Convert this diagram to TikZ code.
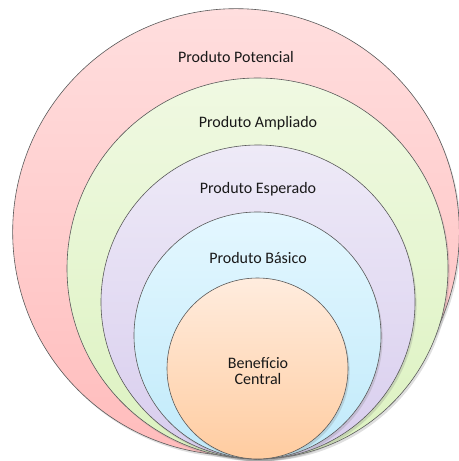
\documentclass[tikz,border=0pt]{standalone}
\usepackage{fontspec}
\setmainfont{Carlito}
\usetikzlibrary{shapes,shadows}

\definecolor{potTop}{RGB}{255,222,222}
\definecolor{potBot}{RGB}{255,188,188}
\definecolor{ampTop}{RGB}{240,249,226}
\definecolor{ampBot}{RGB}{220,242,192}
\definecolor{espTop}{RGB}{238,234,247}
\definecolor{espBot}{RGB}{216,205,238}
\definecolor{basTop}{RGB}{228,247,255}
\definecolor{basBot}{RGB}{192,234,250}
\definecolor{benTop}{RGB}{255,236,222}
\definecolor{benBot}{RGB}{255,204,160}
\definecolor{rim}{RGB}{90,90,90}

\tikzset{
  ring/.style={shape=circle,draw=rim,line width=0.45pt,inner sep=0pt,
    drop shadow={shadow xshift=1.2pt,shadow yshift=-1.8pt,opacity=0.25}},
  caption/.style={align=center,inner sep=0pt,text=black!90,
    font=\fontsize{12}{11.4}\selectfont}
}

\begin{document}
\begin{tikzpicture}[x=0.75pt,y=-0.75pt]
\useasboundingbox (0,0) rectangle (459,461);
\clip (0,0) rectangle (459,461);
\node[ring,minimum size=335pt,top color=potTop,bottom color=potBot] (pot) at (236,232) {};
\node[ring,minimum size=285.75pt,top color=ampTop,bottom color=ampBot] (amp) at (257.5,268.5) {};
\node[ring,minimum size=235.5pt,top color=espTop,bottom color=espBot] (esp) at (258,302) {};
\node[ring,minimum size=185.25pt,top color=basTop,bottom color=basBot] (bas) at (257.5,335.5) {};
\node[ring,minimum size=135.75pt,top color=benTop,bottom color=benBot] (ben) at (257.5,368.5) {};

\node[caption] (pot-txt) at (236,57) {Produto Potencial};
\node[caption] (amp-txt) at (258,123) {Produto Ampliado};
\node[caption] (esp-txt) at (258,189) {Produto Esperado};
\node[caption] (bas-txt) at (258,258) {Produto Básico};
\node[caption] (ben-txt) at (258,371) {Benefício\\Central};
\end{tikzpicture}
\end{document}
